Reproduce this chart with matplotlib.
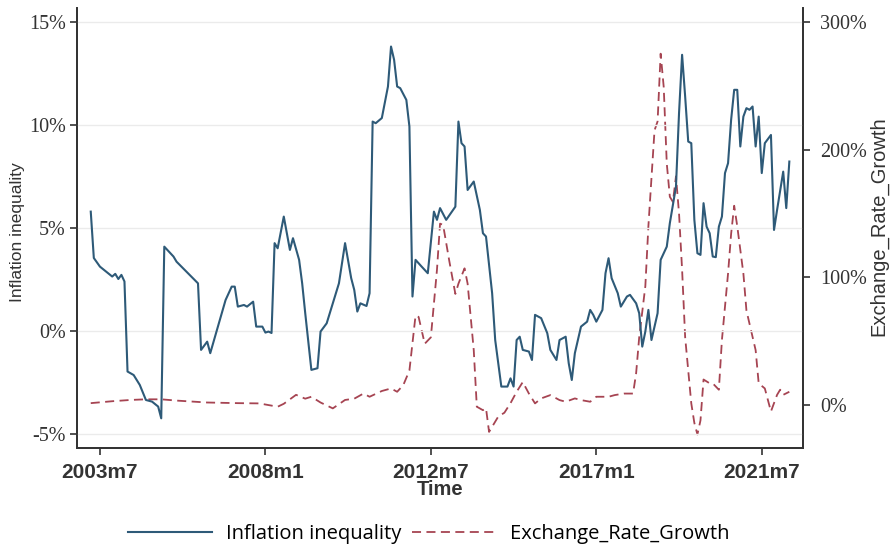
import matplotlib
matplotlib.use("Agg")
import matplotlib.pyplot as plt
from matplotlib.ticker import FuncFormatter

# months counted from 2003m7 (0 = 2003m7)
ineq_month = [-3, -2, 0, 4, 5, 6, 7, 8, 9, 11, 13, 15, 17, 19, 20, 21, 24, 25, 32, 33,
              35, 36, 41, 43, 44, 45, 47, 48, 50, 51, 53, 54, 55, 56, 57, 58, 60, 62, 63, 65,
              66, 67, 69, 71, 72, 74, 76, 78, 80, 82, 83, 84, 85, 87, 88, 89, 90, 92, 94, 95,
              96, 97, 98, 100, 101, 102, 103, 105, 107, 109, 110, 111, 113, 116, 117, 118, 119, 120, 122, 124,
              125, 126, 128, 129, 131, 133, 134, 135, 136, 137, 138, 140, 141, 142, 144, 146, 147, 149, 150, 152,
              153, 154, 155, 157, 159, 160, 161, 162, 164, 165, 166, 167, 169, 170, 172, 173, 175, 176, 177, 178,
              179, 180, 182, 183, 184, 185, 186, 188, 189, 190, 191, 192, 193, 194, 195, 196, 197, 198, 199, 200,
              201, 202, 203, 204, 205, 206, 207, 208, 209, 210, 211, 212, 213, 214, 215, 216, 217, 219, 220, 221,
              223, 224, 225]
ineq_value = [5.79, 3.54, 3.12, 2.64, 2.77, 2.52, 2.72, 2.40, -1.97, -2.14, -2.62, -3.35, -3.43, -3.67, -4.24, 4.09, 3.61, 3.36, 2.31, -0.92,
              -0.52, -1.08, 1.50, 2.15, 2.15, 1.18, 1.26, 1.18, 1.42, 0.21, 0.21, -0.08, -0.03, -0.10, 4.26, 4.01, 5.55, 3.93, 4.50, 3.45,
              2.31, 0.86, -1.89, -1.81, -0.03, 0.37, 1.34, 2.31, 4.26, 2.56, 1.99, 0.94, 1.34, 1.21, 1.83, 10.16, 10.08, 10.33, 11.86, 13.80,
              13.16, 11.86, 11.78, 11.21, 9.92, 1.67, 3.45, 3.12, 2.80, 5.79, 5.39, 5.96, 5.39, 6.03, 10.16, 9.11, 8.95, 6.84, 7.25, 5.87,
              4.74, 4.58, 1.83, -0.44, -2.70, -2.70, -2.30, -2.70, -0.44, -0.28, -0.92, -1.00, -1.41, 0.78, 0.62, -0.11, -0.92, -1.41, -0.44, -0.28,
              -1.57, -2.38, -1.08, 0.21, 0.45, 1.02, 0.78, 0.45, 1.02, 2.80, 3.53, 2.56, 1.83, 1.18, 1.67, 1.75, 1.34, 0.86, -0.76, -0.03,
              1.02, -0.44, 0.86, 3.45, 3.77, 4.09, 5.23, 7.00, 10.57, 13.40, 11.37, 9.19, 9.11, 5.39, 3.77, 3.69, 6.20, 5.06, 4.74, 3.61,
              3.58, 5.06, 5.55, 7.66, 8.14, 10.24, 11.70, 11.70, 8.95, 10.40, 10.81, 10.73, 10.89, 8.95, 10.40, 7.66, 9.11, 9.51, 4.90, 5.87,
              7.73, 5.96, 8.22]

fx_month = [-3, 4, 10, 15, 20, 25, 35, 45, 52, 58, 60, 64, 67, 69, 72, 76, 80, 83, 86, 88,
            92, 95, 97, 99, 101, 103, 104, 106, 108, 110, 111, 112, 114, 116, 117, 119, 120, 122, 123, 125,
            126, 127, 130, 132, 134, 136, 138, 140, 142, 144, 147, 150, 152, 155, 157, 160, 162, 166, 168, 171,
            174, 175, 176, 178, 179, 181, 182, 183, 184, 185, 186, 187, 188, 189, 190, 191, 193, 194, 195, 196,
            197, 199, 200, 202, 203, 205, 206, 207, 208, 210, 211, 214, 215, 217, 218, 219, 221, 222, 223, 225]
fx_value = [1.5, 3.0, 4.0, 4.5, 4.5, 3.5, 2.0, 1.5, 1.3, -1.3, 1.0, 8.0, 5.0, 6.5, 2.0, -2.6, 4.0, 5.0, 9.0, 6.5,
            11.0, 13.0, 10.4, 15.6, 27.0, 70.0, 69.0, 48.0, 53.0, 106.0, 142.0, 141.0, 113.0, 87.0, 95.0, 107.0, 95.0, 43.0, -1.3, -4.0,
            -2.5, -21.0, -9.0, -6.0, 1.5, 10.4, 18.0, 9.0, 1.3, 5.2, 7.8, 3.9, 2.6, 5.2, 3.9, 2.6, 6.5, 6.5, 7.8, 9.0,
            9.0, 25.0, 53.0, 93.0, 140.0, 215.0, 222.0, 275.0, 249.0, 189.0, 163.0, 159.0, 179.0, 150.0, 106.0, 53.0, 1.3, -14.0, -23.0, -12.0,
            20.0, 17.0, 17.0, 12.0, 51.0, 103.0, 134.0, 156.0, 140.0, 103.0, 74.0, 43.0, 17.0, 13.0, 4.0, -5.0, 8.0, 12.0, 8.0, 10.4]

tick_month = [0, 54, 108, 162, 216]
tick_label = ["2003m7", "2008m1", "2012m7", "2017m1", "2021m7"]

blue = "#2e5a78"
red = "#a64452"
spine_col = "#333333"

fig = plt.figure(figsize=(8.95, 5.47), dpi=100)
ax = fig.add_axes([0.086, 0.181, 0.811, 0.804])
ax2 = ax.twinx()

ax.plot(ineq_month, ineq_value, color=blue, lw=1.5, label="Inflation inequality", zorder=3)
ax2.plot(fx_month, fx_value, color=red, lw=1.3, dashes=(5, 3), label="Exchange_Rate_Growth")

ax.set_zorder(ax2.get_zorder() + 1)
ax.patch.set_visible(False)

ax.set_xlim(-7.5, 229.4)
ax.set_ylim(-5.68, 15.66)
ax2.set_ylim(-33.6, 310.6)

ax.set_yticks([-5, 0, 5, 10, 15])
ax.yaxis.set_major_formatter(FuncFormatter(lambda v, p: f"{v:.0f}%"))
ax2.set_yticks([0, 100, 200, 300])
ax2.yaxis.set_major_formatter(FuncFormatter(lambda v, p: f"{v:.0f}%"))
ax.set_xticks(tick_month)
ax.set_xticklabels(tick_label)

ax.grid(axis="y", color="#ebebeb", lw=1.0)
ax.set_axisbelow(True)

for a in (ax, ax2):
    a.spines["top"].set_visible(False)
    for s in ("left", "right", "bottom"):
        a.spines[s].set_color(spine_col)
        a.spines[s].set_linewidth(1.3)
    a.tick_params(direction="out", length=5, width=1.2, color=spine_col)
ax.tick_params(axis="x", pad=5.5)
ax.tick_params(axis="y", pad=3)
ax2.tick_params(axis="y", pad=7.5)

for lab in ax.get_yticklabels() + ax2.get_yticklabels():
    lab.set_fontfamily("Liberation Serif")
    lab.set_fontsize(14.5)
    lab.set_color("#333333")
for lab in ax.get_xticklabels():
    lab.set_fontfamily("Liberation Sans")
    lab.set_fontsize(15)
    lab.set_fontweight("bold")
    lab.set_color("#333333")

ax.set_xlabel("Time", fontfamily="Liberation Sans", fontsize=14.5, fontweight="bold",
              color="#333333")
ax.xaxis.set_label_coords(0.5, -0.073)
ax.set_ylabel("Inflation inequality", fontfamily="Liberation Sans", fontsize=12.5,
              color="#333333")
ax.yaxis.set_label_coords(-0.071, 0.49)
ax2.set_ylabel("Exchange_Rate_Growth", fontfamily="Liberation Sans", fontsize=14.5,
               color="#333333")
ax2.yaxis.set_label_coords(1.092, 0.505)

h1, l1 = ax.get_legend_handles_labels()
h2, l2 = ax2.get_legend_handles_labels()
fig.legend(h1 + h2, l1 + l2, loc="center", bbox_to_anchor=(0.479, 0.024), ncol=2,
           frameon=False, handlelength=4.2, handletextpad=0.7, columnspacing=0.5,
           prop={"family": "Open Sans", "size": 14.5})

fig.savefig("out.png", dpi=100)
